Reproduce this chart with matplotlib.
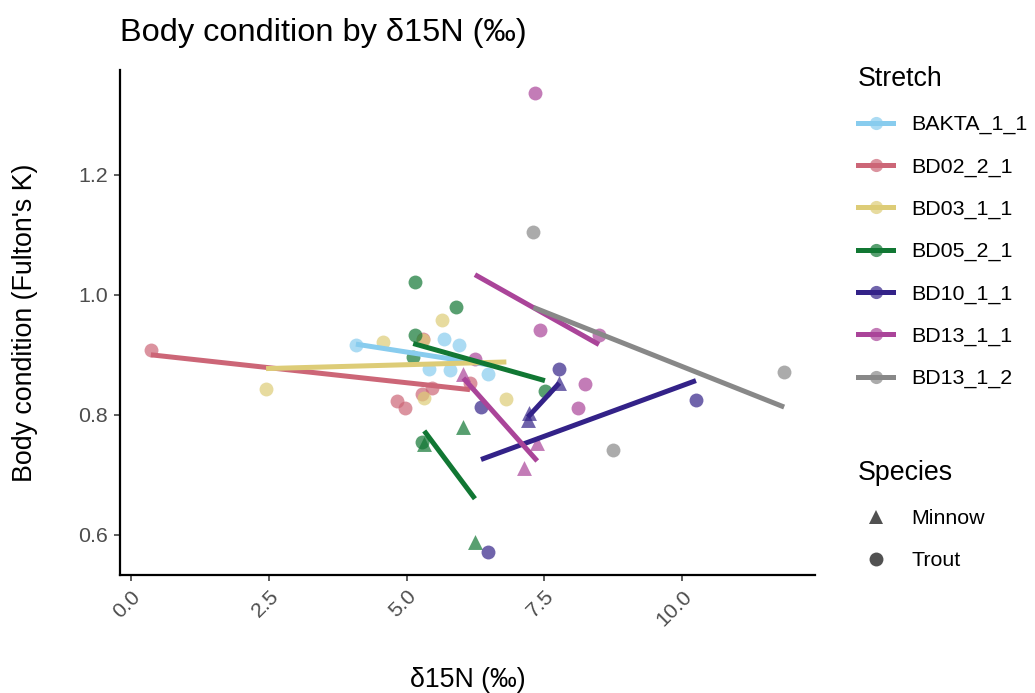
import numpy as np
import matplotlib
matplotlib.use('Agg')
import matplotlib.pyplot as plt
import matplotlib.transforms as mtransforms
from matplotlib.lines import Line2D
from matplotlib.colors import to_rgba

plt.rcParams['font.family'] = ['Liberation Sans', 'DejaVu Sans']

stretches = ['BAKTA_1_1', 'BD02_2_1', 'BD03_1_1', 'BD05_2_1', 'BD10_1_1', 'BD13_1_1', 'BD13_1_2']
stretch_colors = ['#88CCEE', '#CC6677', '#DDCC77', '#117733', '#332288', '#AA4499', '#888888']
species_names = ['Minnow', 'Trout']
species_markers = ['^', 'o']

# one entry per fish
fish_stretch = (['BAKTA_1_1'] * 6 + ['BD02_2_1'] * 7 + ['BD03_1_1'] * 6 + ['BD05_2_1'] * 9
                + ['BD10_1_1'] * 7 + ['BD13_1_1'] * 9 + ['BD13_1_2'] * 3)
fish_species = (['Trout'] * 6 + ['Trout'] * 7 + ['Trout'] * 6
                + ['Trout'] * 6 + ['Minnow'] * 3
                + ['Trout'] * 4 + ['Minnow'] * 3
                + ['Trout'] * 6 + ['Minnow'] * 3
                + ['Trout'] * 3)
d15n = [4.08, 5.68, 5.95, 5.41, 5.79, 6.48,
        0.36, 5.30, 5.28, 5.46, 4.83, 4.97, 6.15,
        2.45, 4.57, 5.64, 5.32, 6.81, 5.30,
        5.15, 5.90, 5.15, 5.12, 7.51, 5.28, 6.03, 5.32, 6.24,
        7.77, 6.35, 10.25, 6.48, 7.77, 7.22, 7.20,
        7.33, 7.42, 8.49, 8.24, 8.11, 6.24, 6.03, 7.37, 7.13,
        7.30, 8.75, 11.85]
condition = [0.917, 0.927, 0.917, 0.877, 0.875, 0.868,
             0.908, 0.927, 0.835, 0.845, 0.823, 0.812, 0.853,
             0.843, 0.922, 0.958, 0.828, 0.827, 0.925,
             1.022, 0.980, 0.933, 0.897, 0.840, 0.755, 0.780, 0.752, 0.588,
             0.877, 0.813, 0.825, 0.572, 0.853, 0.803, 0.792,
             1.337, 0.942, 0.933, 0.852, 0.812, 0.893, 0.868, 0.753, 0.712,
             1.105, 0.742, 0.872]

fish_stretch = np.array(fish_stretch)
fish_species = np.array(fish_species)
d15n = np.array(d15n)
condition = np.array(condition)

fig = plt.figure(figsize=(10.35, 6.93), dpi=100)
ax = fig.add_axes([120 / 1035, 1 - 575 / 693, 695 / 1035, 505 / 693])

# points
for st, col in zip(stretches, stretch_colors):
    for sp, mk in zip(species_names, species_markers):
        m = (fish_stretch == st) & (fish_species == sp)
        if m.sum() == 0:
            continue
        ax.scatter(d15n[m], condition[m], s=100 if mk == 'o' else 115, marker=mk,
                   color=col, alpha=0.7, linewidths=0, zorder=2)

# linear fits per stretch and species
for st, col in zip(stretches, stretch_colors):
    for sp in species_names:
        m = (fish_stretch == st) & (fish_species == sp)
        if m.sum() < 2:
            continue
        slope, icpt = np.polyfit(d15n[m], condition[m], 1)
        xs = np.array([d15n[m].min(), d15n[m].max()])
        ax.plot(xs, slope * xs + icpt, color=col, lw=3.6, solid_capstyle='butt', zorder=3)

ax.set_xlim(-0.2, 12.41)
ax.set_ylim(0.5333, 1.375)
ax.set_xticks([0, 2.5, 5, 7.5, 10])
ax.set_xticklabels(['0.0', '2.5', '5.0', '7.5', '10.0'], rotation=45,
                   ha='right', va='top', rotation_mode='anchor')
shift = mtransforms.ScaledTranslation(5 / 100, -4 / 100, fig.dpi_scale_trans)
for lab in ax.get_xticklabels():
    lab.set_transform(lab.get_transform() + shift)
ax.set_yticks([0.6, 0.8, 1.0, 1.2])
ax.set_yticklabels(['0.6', '0.8', '1.0', '1.2'])
ax.tick_params(axis='both', length=4.5, width=1.1, color='#333333',
               labelsize=15.4, labelcolor='#4d4d4d', pad=4)
for side in ['top', 'right']:
    ax.spines[side].set_visible(False)
for side in ['left', 'bottom']:
    ax.spines[side].set_linewidth(1.6)
    ax.spines[side].set_color('black')

ax.set_xlabel('δ15N (‰)', fontsize=19.3)
ax.xaxis.set_label_coords(0.5, -0.208)
ax.xaxis.label.set_va('center')
ax.set_ylabel("Body condition (Fulton's K)", fontsize=19.3)
ax.yaxis.set_label_coords(-0.137, 0.5)
ax.yaxis.label.set_va('center')

fig.text(120 / 1035, 1 - 41 / 693, 'Body condition by δ15N (‰)', fontsize=23.4,
         va='baseline', ha='left')

stretch_handles = [Line2D([], [], color=c, lw=3.6, marker='o', markersize=9.5,
                          markerfacecolor=to_rgba(c, 0.7), markeredgewidth=0)
                   for c in stretch_colors]
leg1 = fig.legend(stretch_handles, stretches, title='Stretch', loc='upper left',
                  bbox_to_anchor=(858 / 1035, 1 - 66 / 693), frameon=False,
                  fontsize=15.4, title_fontsize=19.3, handlelength=1.64,
                  handletextpad=0.84, labelspacing=1.08, borderpad=0,
                  borderaxespad=0, alignment='left')

species_handles = [Line2D([], [], color='none', marker=mk, markersize=10,
                          markerfacecolor=to_rgba('#333333', 0.85), markeredgewidth=0)
                   for mk in species_markers]
leg2 = fig.legend(species_handles, species_names, title='Species', loc='upper left',
                  bbox_to_anchor=(858 / 1035, 1 - 460 / 693), frameon=False,
                  fontsize=15.4, title_fontsize=19.3, handlelength=1.64,
                  handletextpad=0.84, labelspacing=1.08, borderpad=0,
                  borderaxespad=0, alignment='left')

fig.savefig('out.png', dpi=100)
